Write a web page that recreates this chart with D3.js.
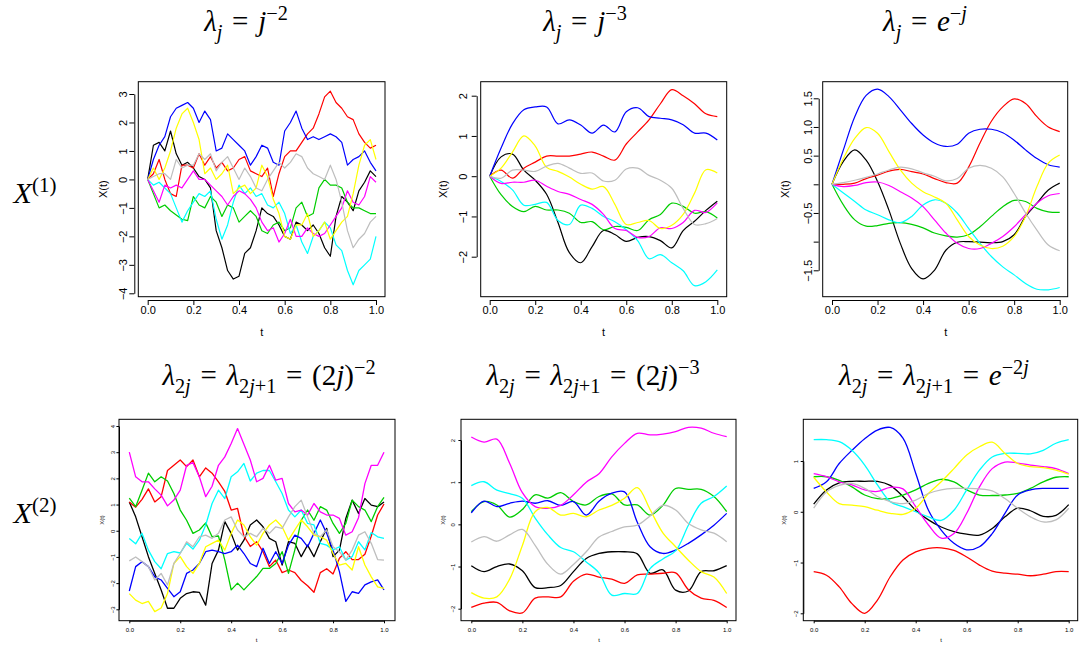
<!DOCTYPE html>
<html>
<head>
<meta charset="utf-8">
<script src="https://cdn.jsdelivr.net/npm/d3@7"></script>
<style>
  body { margin: 0; background: #fff; }
  svg { display: block; }
</style>
</head>
<body>
<svg id="chart"></svg>
<script>
// sample positions on t (read every 0.025 for the rough panels, every 0.05 for the smoother ones)
const tFine = [0,0.025,0.05,0.075,0.1,0.125,0.15,0.175,0.2,0.225,0.25,0.275,0.3,0.325,0.35,0.375,0.4,0.425,0.45,0.475,0.5,
  0.525,0.55,0.575,0.6,0.625,0.65,0.675,0.7,0.725,0.75,0.775,0.8,0.825,0.85,0.875,0.9,0.925,0.95,0.975,1];
const tCoarse = [0,0.05,0.1,0.15,0.2,0.25,0.3,0.35,0.4,0.45,0.5,0.55,0.6,0.65,0.7,0.75,0.8,0.85,0.9,0.95,1];

// matplot order: black, red, green3, blue, cyan, magenta, yellow, gray
const lineColors = ["#000000", "#FF0000", "#00CD00", "#0000FF", "#00FFFF", "#FF00FF", "#FFFF00", "#BEBEBE"];

// X(1), lambda_j = j^-2
const curvesJm2 = [
  [0,1.2,1.3,1.0,1.7,0.9,0.5,0.6,0.4,0.1,0.0,-0.3,-1.8,-2.4,-3.2,-3.5,-3.4,-2.6,-2.4,-1.8,-1.0,-1.2,-1.3,-1.6,-2.0,-2.1,-1.5,-1.6,-1.8,-1.6,-1.9,-2.4,-2.7,-1.3,-0.6,-0.8,-1.1,-0.4,-0.1,0.3,0.1],
  [0,0.2,0.7,0.0,-0.5,-0.6,0.5,0.5,0.4,0.9,0.5,0.8,0.4,0.6,0.3,0.4,0.7,0.8,0.3,0.2,0.1,0.4,-0.6,0.2,0.8,1.0,1.0,1.3,1.6,1.8,2.3,2.9,3.1,2.7,2.5,2.2,2.1,1.6,1.3,1.1,1.2],
  [0,-0.5,-1.0,-0.9,-1.1,-1.25,-1.4,-1.45,-0.6,-0.9,-1.0,-0.6,-0.8,-1.3,-0.9,-1.0,-1.5,-1.3,-1.1,-1.3,-1.8,-1.9,-1.6,-1.5,-1.8,-1.7,-1.0,-0.8,-1.3,-1.2,-0.3,0.0,-0.2,-0.2,-0.3,-0.8,-1.0,-1.0,-1.1,-1.2,-1.2],
  [0,0.7,1.2,1.5,2.2,2.5,2.6,2.7,2.5,2.0,2.4,2.1,1.0,1.1,1.6,1.4,1.2,1.0,0.5,0.8,1.2,1.1,0.6,0.5,1.7,2.0,2.4,1.8,1.4,1.5,1.4,1.5,1.6,1.5,1.3,0.5,0.7,0.8,1.0,0.6,0.3],
  [0,-0.2,-0.1,-0.3,-0.5,-1.0,-1.5,-1.1,-0.8,-0.5,-0.6,-0.4,-1.4,-2.1,-1.6,-0.8,-0.2,-0.5,-0.3,-0.6,-0.5,-0.9,-1.0,-0.8,-1.2,-1.9,-1.6,-2.2,-2.6,-2.0,-1.8,-1.5,-1.7,-2.3,-2.5,-3.2,-3.7,-3.2,-3.0,-2.8,-2.0],
  [0,-0.4,-0.8,-0.2,-0.3,-0.2,-0.3,0.0,0.3,0.0,0.0,-0.2,-0.4,-0.6,-0.9,-0.6,-0.4,-0.5,-0.7,-1.0,-1.5,-1.8,-1.7,-2.2,-1.9,-1.4,-2.0,-2.0,-1.7,-1.9,-2.0,-1.9,-1.6,-1.3,-1.0,-0.4,-0.8,-0.9,-0.6,0.1,-0.1],
  [0,0.4,0.0,0.4,1.0,1.8,2.3,2.5,2.0,1.4,0.2,0.4,0.0,0.2,0.5,-0.5,-0.3,-0.2,-0.5,-0.3,0.5,0.1,-0.7,-1.2,-2.0,-2.1,-1.6,-1.6,-1.2,-2.0,-1.8,-1.5,-2.1,-1.8,-1.5,-1.3,-0.5,0.5,1.2,1.4,0.7],
  [0,0.1,0.2,0.2,0.0,0.7,0.4,0.5,0.5,0.9,0.7,0.9,0.3,0.6,0.8,0.4,0.0,0.4,0.1,-0.3,-0.4,0.0,0.3,0.6,0.4,0.6,0.9,0.8,0.4,0.2,0.1,0.0,0.5,0.0,-0.8,-1.8,-2.4,-2.1,-1.9,-1.5,-1.3]
];

// X(1), lambda_j = j^-3
const curvesJm3 = [
  [0,0.48,0.55,0.15,-0.1,-0.45,-1.15,-1.9,-2.15,-1.75,-1.35,-1.45,-1.62,-1.52,-1.5,-1.6,-1.78,-1.35,-1.12,-0.85,-0.62],
  [0,0.15,-0.05,0.2,0.35,0.5,0.5,0.5,0.55,0.6,0.5,0.4,0.8,1.1,1.4,1.8,2.15,2.0,1.8,1.55,1.48],
  [0,-0.46,-0.75,-0.88,-0.75,-0.84,-0.84,-0.92,-1.15,-1.13,-1.33,-1.25,-1.27,-1.35,-1.08,-0.95,-0.67,-0.75,-0.92,-0.88,-1.04],
  [0,0.7,1.3,1.65,1.72,1.72,1.3,1.4,1.27,1.07,1.27,1.1,1.6,1.7,1.48,1.44,1.4,1.28,1.07,1.07,0.9],
  [0,-0.13,-0.34,-0.72,-0.7,-0.65,-1.1,-1.2,-0.72,-0.8,-1.0,-1.13,-1.33,-1.6,-2.05,-1.95,-2.15,-2.35,-2.72,-2.62,-2.33],
  [0,-0.18,-0.15,-0.15,-0.1,-0.25,-0.38,-0.45,-0.58,-0.7,-0.95,-1.3,-1.35,-1.52,-1.5,-1.28,-1.3,-1.15,-0.85,-0.9,-0.66],
  [0,0.2,0.6,1.0,0.75,0.22,0.12,-0.02,-0.2,-0.32,-0.26,-0.7,-1.2,-1.15,-1.1,-1.3,-1.22,-0.95,-0.42,0.16,0.08],
  [0,-0.05,0.15,0.15,0.12,0.25,0.32,0.2,0.07,0.08,-0.12,-0.1,0.18,0.2,0.02,-0.1,-0.3,-0.8,-1.2,-1.18,-1.05]
];

// X(1), lambda_j = e^-j
const curvesExp = [
  [0,0.4,0.6,0.42,0.05,-0.45,-1.03,-1.47,-1.65,-1.5,-1.15,-1.01,-1.0,-1.01,-1.02,-1.0,-0.88,-0.56,-0.33,-0.1,0.02],
  [0,0.0,0.02,0.1,0.16,0.23,0.26,0.22,0.18,0.1,0.03,0.02,0.3,0.72,1.1,1.35,1.49,1.41,1.18,1.0,0.92],
  [0,-0.36,-0.62,-0.73,-0.72,-0.68,-0.67,-0.7,-0.76,-0.85,-0.9,-0.92,-0.88,-0.74,-0.56,-0.39,-0.28,-0.3,-0.42,-0.48,-0.49],
  [0,0.6,1.18,1.55,1.66,1.53,1.3,1.06,0.86,0.72,0.66,0.7,0.89,0.96,0.96,0.9,0.77,0.6,0.45,0.34,0.3],
  [0,-0.15,-0.3,-0.45,-0.53,-0.62,-0.67,-0.56,-0.36,-0.27,-0.33,-0.5,-0.77,-1.03,-1.26,-1.44,-1.58,-1.73,-1.83,-1.84,-1.8],
  [0,-0.04,-0.02,0.03,0.04,-0.02,-0.13,-0.24,-0.39,-0.62,-0.85,-1.03,-1.12,-1.12,-1.03,-0.91,-0.74,-0.53,-0.33,-0.2,-0.16],
  [0,0.45,0.8,0.99,0.89,0.57,0.25,0.02,-0.13,-0.22,-0.33,-0.62,-0.91,-1.06,-1.12,-1.08,-0.91,-0.56,-0.04,0.37,0.51],
  [0,0.03,0.07,0.12,0.18,0.25,0.3,0.27,0.2,0.14,0.06,0.1,0.28,0.33,0.28,0.13,-0.16,-0.5,-0.8,-1.06,-1.16]
];

// X(2), lambda_2j = lambda_2j+1 = (2j)^-2
const curvesPairJm2 = [
  [1.1,0.53,-0.23,-0.99,-1.63,-2.26,-2.96,-2.96,-2.58,-2.4,-2.33,-2.35,-2.84,-1.25,-0.74,0.35,-0.1,-0.74,-0.36,0.22,0.41,0.15,-0.29,-0.42,-1.31,-0.42,-0.48,-0.99,-0.55,-0.99,-0.42,0.09,-0.99,-0.74,0.47,1.17,0.66,1.23,0.98,0.92,1.1],
  [1.1,0.9,1.2,1.6,1.1,1.3,2.3,2.5,2.7,2.45,2.7,2.06,2.4,2.2,1.87,1.5,0.79,0.85,-0.2,-0.6,-0.42,-0.8,-1.37,-1.12,-1.6,-1.5,-1.6,-1.9,-2.1,-2.35,-1.6,-1.45,-1.65,-1.05,-0.8,-1.1,-1.1,-0.9,-0.2,0.6,1.02],
  [1.25,0.92,1.55,2.2,1.87,2.06,1.9,1.42,0.79,0.4,-0.1,0.03,0.3,-0.23,-0.2,-1.12,-2.26,-2.0,-2.26,-2.0,-1.75,-1.44,-1.44,-1.25,-0.8,-1.63,-0.73,0.4,0.79,0.4,0.92,0.79,0.28,-0.1,0.28,1.17,0.92,0.79,0.35,0.92,1.27],
  [-2.3,-1.37,-1.18,-1.37,-1.76,-1.88,-2.2,-2.52,-2.33,-1.63,-1.5,-1.25,-0.8,-0.74,-0.8,-0.87,-0.8,-0.55,-0.87,-1.25,-1.37,-0.67,-1.25,-0.8,-1.25,-0.55,-0.17,-0.29,-0.61,-0.1,0.41,-0.1,-0.74,-1.56,-2.7,-2.33,-2.39,-2.07,-1.95,-1.88,-2.26],
  [-0.3,-0.5,-0.1,-0.74,-1.18,-1.45,-0.87,-0.8,-0.85,-0.48,-0.7,-0.36,0.22,1.04,1.55,1.23,2.06,2.25,2.57,1.9,2.2,2.3,2.3,1.87,1.42,0.79,0.53,0.79,0.28,0.22,-0.48,-0.55,-0.73,-0.61,-1.12,-0.99,-0.42,-0.73,-0.07,-0.23,-0.29],
  [3.0,2.06,1.87,1.87,1.6,1.36,0.95,1.17,1.55,2.5,2.6,2.06,1.3,1.7,2.5,2.82,3.33,3.9,3.3,2.7,1.87,2.0,2.5,1.93,2.0,1.04,0.72,0.79,0.6,1.04,0.72,0.6,0.6,0.47,-0.17,-0.04,0.5,1.8,2.5,2.5,3.0],
  [-2.4,-2.65,-2.78,-2.7,-3.09,-2.95,-2.4,-1.25,-0.99,-1.37,-1.63,-1.25,-0.61,-0.48,-0.36,-0.74,-0.1,0.41,0.22,-0.23,-0.55,-0.1,0.22,0.41,0.15,-0.36,0.03,0.41,0.15,-0.17,-0.23,-0.36,-0.87,-1.31,-1.25,-1.5,-0.61,-1.31,-1.76,-2.14,-2.2],
  [-1.15,-1.0,-1.18,-1.37,-1.88,-1.63,-2.07,-1.25,-0.87,-0.42,-0.61,-0.23,-0.17,-0.29,-0.1,0.41,0.53,0.03,-0.23,-0.1,-0.23,0.09,-0.1,0.15,0.09,0.53,0.92,1.17,0.53,-0.1,-0.23,0.03,-0.61,-0.8,-1.12,-0.74,-0.17,-0.04,-0.48,-1.1,-1.12]
];

// X(2), lambda_2j = lambda_2j+1 = (2j)^-3
const curvesPairJm3 = [
  [-0.98,-1.12,-1.0,-0.94,-1.1,-1.5,-1.5,-1.45,-1.12,-0.81,-0.69,-0.65,-0.65,-0.7,-1.16,-1.08,-1.56,-1.58,-1.12,-1.1,-0.98],
  [-1.97,-1.87,-1.85,-2.05,-2.1,-1.75,-1.72,-1.72,-1.35,-1.18,-1.25,-1.3,-1.4,-1.2,-1.18,-1.16,-1.15,-1.55,-1.75,-1.8,-1.97],
  [0.3,0.54,0.46,0.17,0.35,0.7,0.62,0.75,0.54,0.46,0.66,0.72,0.46,0.46,0.22,0.45,0.85,0.83,0.83,0.66,0.3],
  [0.27,0.55,0.42,0.5,0.55,0.5,0.56,0.45,0.54,0.22,0.55,0.74,0.77,0.05,-0.53,-0.69,-0.61,-0.45,-0.25,-0.02,0.26],
  [0.92,1.01,0.81,0.73,0.62,0.15,-0.25,-0.55,-0.65,-0.89,-1.15,-1.68,-1.64,-1.64,-1.05,-0.82,-0.63,-0.02,0.5,0.66,0.91],
  [2.07,1.95,2.02,1.45,0.75,0.42,0.38,0.45,0.7,1.0,1.2,1.6,1.92,2.16,2.12,2.14,2.2,2.3,2.28,2.16,2.08],
  [-1.62,-1.75,-1.72,-1.3,-0.5,0.3,0.4,0.22,0.26,0.18,0.34,0.45,0.62,0.87,0.35,-0.2,-0.53,-0.85,-1.12,-1.25,-1.64],
  [-0.42,-0.29,-0.4,-0.25,-0.12,-0.5,-0.95,-1.18,-0.95,-0.65,-0.3,-0.17,-0.06,-0.02,0.2,0.45,0.34,0.02,-0.13,-0.21,-0.41]
];

// X(2), lambda_2j = lambda_2j+1 = e^-2j
const curvesPairExp = [
  [0.15,0.43,0.57,0.6,0.6,0.6,0.52,0.3,0.03,-0.16,-0.3,-0.39,-0.44,-0.46,-0.33,-0.1,0.07,0.02,-0.09,-0.07,0.14],
  [-1.18,-1.25,-1.48,-1.81,-2.0,-1.74,-1.28,-0.95,-0.79,-0.72,-0.71,-0.76,-0.89,-1.05,-1.17,-1.21,-1.23,-1.26,-1.23,-1.18,-1.18],
  [0.69,0.69,0.62,0.49,0.33,0.26,0.26,0.33,0.43,0.56,0.64,0.59,0.43,0.33,0.32,0.33,0.36,0.46,0.59,0.68,0.69],
  [0.46,0.59,0.95,1.21,1.44,1.61,1.66,1.45,0.76,0.03,-0.36,-0.62,-0.75,-0.69,-0.43,-0.03,0.33,0.43,0.46,0.46,0.46],
  [1.42,1.42,1.38,1.21,0.92,0.53,0.2,0.1,0.0,-0.1,-0.17,0.03,0.43,0.82,1.08,1.15,1.15,1.14,1.21,1.35,1.42],
  [0.75,0.69,0.59,0.53,0.43,0.4,0.48,0.45,0.1,-0.26,-0.52,-0.43,-0.03,0.49,0.85,0.98,0.96,0.92,0.89,0.85,0.75],
  [0.68,0.39,0.16,0.13,0.1,0.03,-0.03,-0.05,0.07,0.36,0.59,0.85,1.12,1.28,1.37,1.15,0.95,0.89,0.87,0.82,0.74],
  [0.07,0.39,0.52,0.56,0.46,0.3,0.2,0.16,0.23,0.36,0.43,0.46,0.46,0.45,0.41,0.26,0.07,-0.1,-0.2,-0.16,0.07]
];

const xTicks = [0, 0.2, 0.4, 0.6, 0.8, 1];
const yTicksJm2 = [-4, -3, -2, -1, 0, 1, 2, 3];
const yTicksJm3 = [-2, -1, 0, 1, 2];
const yTicksExp = [-1.5, -1, -0.5, 0, 0.5, 1, 1.5];
const yTicksPairJm2 = [-3, -2, -1, 0, 1, 2, 3, 4];
const yTicksPairJm3 = [-2, -1, 0, 1, 2];
const yTicksPairExp = [-2, -1, 0, 1];

const W = 1079, H = 646;
const svg = d3.select('#chart').attr('width', W).attr('height', H);
svg.append('rect').attr('width', W).attr('height', H).attr('fill', '#fff');

const sansFont = '"Liberation Sans", Arial, Helvetica, sans-serif';
const serifFont = '"Liberation Serif", "Times New Roman", serif';

const topRow = {axisGap: 4, xAxisY: 300, xLabY: 310.5, xTitleY: 332, fs: 11, tick: 5, lw: 1.2, boxTop: 81.7, boxBottom: 296.7};
const botRow = {axisGap: 0, xAxisY: 620.7, xLabY: 629.5, xTitleY: 640, fs: 6, tick: 2.6, lw: 1.3, boxTop: 419.3, boxBottom: 620.7};

const panels = [
  {row: topRow, series: curvesJm2, t: tFine, curve: d3.curveLinear, left: 138.3, right: 385, xr: [147.7, 376],
   yd: [-4, 3], yr: [293.3, 94], yTicks: yTicksJm2, yLabX: 123.3, yTitleX: 103.3, fmt: d3.format('d')},
  {row: topRow, series: curvesJm3, t: tCoarse, curve: d3.curveCatmullRom, left: 480.7, right: 726.7, xr: [489.7, 717.3],
   yd: [-2, 2], yr: [256.7, 95.7], yTicks: yTicksJm3, yLabX: 463.3, yTitleX: 443.3, fmt: d3.format('d')},
  {row: topRow, series: curvesExp, t: tCoarse, curve: d3.curveCatmullRom, left: 822.7, right: 1067.7, xr: [832, 1059.7],
   yd: [-1.5, 1.5], yr: [270.3, 98.3], yTicks: yTicksExp, yLabX: 807.7, yTitleX: 785,
   fmt: d => (d === 0 || d === -1) ? '' : d3.format('.1f')(d)},
  {row: botRow, series: curvesPairJm2, t: tFine, curve: d3.curveLinear, left: 119, right: 395, xr: [129.3, 384],
   yd: [-3, 4], yr: [609.3, 426], yTicks: yTicksPairJm2, yLabX: 112.7, yTitleX: 101.8, fmt: d3.format('d')},
  {row: botRow, series: curvesPairJm3, t: tCoarse, curve: d3.curveCatmullRom, left: 461, right: 736, xr: [471.3, 726.7],
   yd: [-2, 2], yr: [608.7, 440], yTicks: yTicksPairJm3, yLabX: 453.3, yTitleX: 443, fmt: d3.format('d')},
  {row: botRow, series: curvesPairExp, t: tCoarse, curve: d3.curveCatmullRom, left: 803.3, right: 1077.7, xr: [813.7, 1068.7],
   yd: [-2, 1], yr: [613.3, 461], yTicks: yTicksPairExp, yLabX: 795.5, yTitleX: 784, fmt: d3.format('d')}
];

panels.forEach(p => {
  const r = p.row;
  const g = svg.append('g');
  const x = d3.scaleLinear().domain([0, 1]).range(p.xr);
  const y = d3.scaleLinear().domain(p.yd).range(p.yr);

  g.append('clipPath').attr('id', 'clip' + p.left)
    .append('rect').attr('x', p.left).attr('y', r.boxTop)
    .attr('width', p.right - p.left).attr('height', r.boxBottom - r.boxTop);

  const line = d3.line()
      .x((d, i) => x(p.t[i]))
      .y(d => y(d))
      .curve(p.curve);

  g.append('g').attr('clip-path', `url(#clip${p.left})`)
    .selectAll('path')
    .data(p.series)
    .join('path')
      .attr('d', line)
      .attr('fill', 'none')
      .attr('stroke', (d, i) => lineColors[i])
      .attr('stroke-width', r.lw)
      .attr('stroke-linejoin', 'round');

  g.append('rect')
    .attr('x', p.left).attr('y', r.boxTop)
    .attr('width', p.right - p.left).attr('height', r.boxBottom - r.boxTop)
    .attr('fill', 'none').attr('stroke', '#000').attr('stroke-width', 1);

  // y axis, labels parallel to the axis like R
  const yAxisX = p.left - r.axisGap;
  const yAxisG = g.append('g')
      .attr('transform', `translate(${yAxisX},0)`)
      .call(d3.axisLeft(y).tickValues(p.yTicks).tickSize(r.tick).tickSizeOuter(0).tickFormat(p.fmt));
  yAxisG.attr('font-family', sansFont).attr('font-size', r.fs);
  yAxisG.selectAll('text')
      .attr('x', 0)
      .attr('dy', '0.35em')
      .attr('text-anchor', 'middle')
      .attr('fill', '#000')
      .attr('transform', `translate(${p.yLabX - yAxisX},0) rotate(-90)`);

  // x axis
  const xAxisG = g.append('g')
      .attr('transform', `translate(0,${r.xAxisY})`)
      .call(d3.axisBottom(x).tickValues(xTicks).tickSize(r.tick).tickSizeOuter(0).tickFormat(d3.format('.1f')));
  xAxisG.attr('font-family', sansFont).attr('font-size', r.fs);
  xAxisG.selectAll('text')
      .attr('y', r.xLabY - r.xAxisY)
      .attr('dy', '0.35em')
      .attr('fill', '#000');
  g.selectAll('.domain, .tick line').attr('stroke', '#000');

  // axis titles
  g.append('text')
    .attr('x', (p.xr[0] + p.xr[1]) / 2).attr('y', r.xTitleY).attr('dy', '0.35em')
    .attr('text-anchor', 'middle').attr('font-family', sansFont).attr('font-size', r.fs)
    .text('t');
  g.append('text')
    .attr('transform', `translate(${p.yTitleX},${(r.boxTop + r.boxBottom) / 2}) rotate(-90)`)
    .attr('dy', '0.35em')
    .attr('text-anchor', 'middle').attr('font-family', sansFont).attr('font-size', r.fs)
    .text('X(t)');
});

// math-style labels: [text, 'n' | 'sub' | 'sup', italic]
function mathLabel(x, y, parts, size) {
  const txt = svg.append('text')
      .attr('x', x).attr('y', y)
      .attr('text-anchor', 'middle')
      .attr('font-family', serifFont)
      .attr('font-size', size);
  let shift = 0;
  parts.forEach(([s, kind, it]) => {
    const target = kind === 'sub' ? size * 0.28 : kind === 'sup' ? -size * 0.38 : 0;
    txt.append('tspan')
      .attr('dy', target - shift)
      .attr('font-size', kind === 'n' ? size : size * 0.7)
      .attr('font-style', it ? 'italic' : 'normal')
      .text(s);
    shift = target;
  });
}

const EQ = '\u2004=\u2004';
const titleSize = 29;
mathLabel(246, 31, [['λ','n',1],['j','sub',1],[EQ,'n',0],['j','n',1],['−2','sup',0]], titleSize);
mathLabel(585, 31, [['λ','n',1],['j','sub',1],[EQ,'n',0],['j','n',1],['−3','sup',0]], titleSize);
mathLabel(925, 31, [['λ','n',1],['j','sub',1],[EQ,'n',0],['e','n',1],['−','sup',0],['j','sup',1]], titleSize);

const pairLhs = [['λ','n',1],['2','sub',0],['j','sub',1],[EQ,'n',0],['λ','n',1],['2','sub',0],['j','sub',1],['+1','sub',0],[EQ,'n',0]];
mathLabel(269, 385, pairLhs.concat([['(2','n',0],['j','n',1],[')','n',0],['−2','sup',0]]), titleSize);
mathLabel(593, 385, pairLhs.concat([['(2','n',0],['j','n',1],[')','n',0],['−3','sup',0]]), titleSize);
mathLabel(934, 385, pairLhs.concat([['e','n',1],['−2','sup',0],['j','sup',1]]), titleSize);

mathLabel(35, 203, [['X','n',1],['(1)','sup',0]], 30);
mathLabel(35, 523, [['X','n',1],['(2)','sup',0]], 30);
</script>
</body>
</html>
